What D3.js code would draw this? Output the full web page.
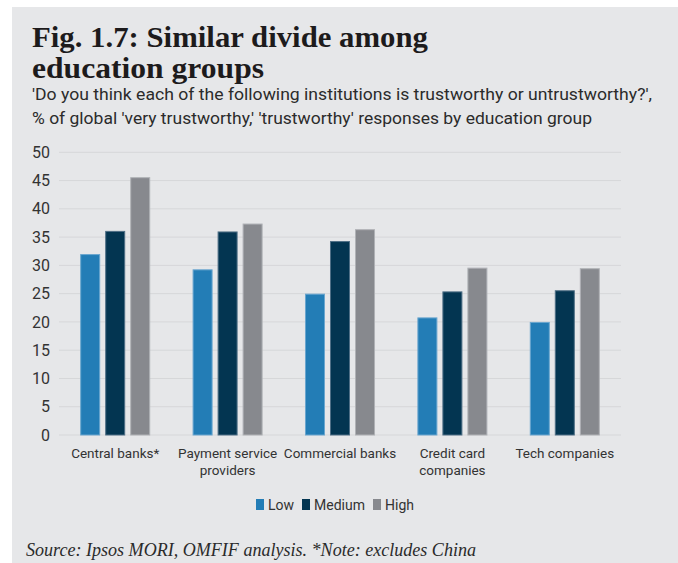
<!DOCTYPE html>
<html>
<head>
<meta charset="utf-8">
<script src="https://cdn.jsdelivr.net/npm/d3@7"></script>
<style>
  html, body { margin: 0; padding: 0; background: #ffffff; }
  svg { display: block; }
</style>
</head>
<body>
<svg id="chart" width="678" height="563"></svg>
<script>
const categories = ["Central banks*", "Payment service\nproviders", "Commercial banks", "Credit card\ncompanies", "Tech companies"];
const seriesNames = ["Low", "Medium", "High"];
const lowValues = [32.0, 29.3, 25.0, 20.8, 20.0];
const mediumValues = [36.1, 36.0, 34.3, 25.4, 25.6];
const highValues = [45.6, 37.4, 36.4, 29.6, 29.5];
const yTicks = [0, 5, 10, 15, 20, 25, 30, 35, 40, 45, 50];
const colors = ["#237db6", "#033551", "#87898e"];
const strokes = ["#6aa6cf", "#4f6f86", "#b0b2b6"];

const seriesValues = [lowValues, mediumValues, highValues];

const svg = d3.select("#chart");

// background panel
svg.append("rect").attr("x", 12).attr("y", 7).attr("width", 666).attr("height", 556).attr("fill", "#e6e7e9");

// Title
const title = svg.append("g");
title.append("text").attr("x", 32).attr("y", 47)
  .attr("font-family", "'Liberation Serif', 'Times New Roman', serif").attr("font-weight", "bold")
  .attr("font-size", 29).attr("fill", "#1d1b1c")
  .attr("textLength", 396).attr("lengthAdjust", "spacingAndGlyphs")
  .text("Fig. 1.7: Similar divide among");
title.append("text").attr("x", 32).attr("y", 78)
  .attr("font-family", "'Liberation Serif', 'Times New Roman', serif").attr("font-weight", "bold")
  .attr("font-size", 29).attr("fill", "#1d1b1c")
  .attr("textLength", 232).attr("lengthAdjust", "spacingAndGlyphs")
  .text("education groups");

// Subtitle
svg.append("text").attr("x", 32).attr("y", 100)
  .attr("font-family", "Roboto, sans-serif").attr("font-size", 17).attr("fill", "#2b2b2b")
  .attr("textLength", 620).attr("lengthAdjust", "spacingAndGlyphs")
  .text("'Do you think each of the following institutions is trustworthy or untrustworthy?',");
svg.append("text").attr("x", 32).attr("y", 124)
  .attr("font-family", "Roboto, sans-serif").attr("font-size", 17).attr("fill", "#2b2b2b")
  .attr("textLength", 560).attr("lengthAdjust", "spacingAndGlyphs")
  .text("% of global 'very trustworthy,' 'trustworthy' responses by education group");

// Scales
const y = d3.scaleLinear().domain([0, 50]).range([435, 152.3]);
const x0 = d3.scaleBand().domain(categories).range([59, 621]).paddingInner(0.377).paddingOuter(0.1885);
const x1 = d3.scaleBand().domain(seriesNames).range([0, x0.bandwidth()]).paddingInner(0.2);

// Gridlines
const grid = svg.append("g");
grid.selectAll("line").data(yTicks).join("line")
  .attr("x1", 59).attr("x2", 621)
  .attr("y1", d => y(d)).attr("y2", d => y(d))
  .attr("stroke", "#d6d7d9").attr("stroke-width", 1);

// Y axis labels
const yAxis = svg.append("g").attr("transform", "translate(50,0)")
  .call(d3.axisLeft(y).tickValues(yTicks).tickSize(0).tickPadding(0));
yAxis.select(".domain").remove();
yAxis.selectAll("text")
  .attr("font-family", "Roboto, sans-serif").attr("font-size", 16).attr("fill", "#333333");

// Bars
const groups = svg.append("g").selectAll("g").data(categories).join("g")
  .attr("transform", d => `translate(${x0(d)},0)`);
groups.selectAll("rect")
  .data((d, i) => seriesNames.map((s, j) => ({ s, j, v: seriesValues[j][i] })))
  .join("rect")
  .attr("x", d => x1(d.s) + 0.5)
  .attr("width", x1.bandwidth() - 1)
  .attr("y", d => y(d.v) + 0.5)
  .attr("height", d => y(0) - y(d.v) - 0.5)
  .attr("fill", d => colors[d.j])
  .attr("stroke", d => strokes[d.j])
  .attr("stroke-width", 1);

// X axis labels
const xAxis = svg.append("g").attr("transform", "translate(0,435)")
  .call(d3.axisBottom(x0).tickSize(0).tickPadding(0));
xAxis.select(".domain").remove();
xAxis.selectAll(".tick text").each(function(d) {
  const t = d3.select(this);
  t.text(null).attr("y", 0).attr("dy", null)
    .attr("font-family", "Roboto, sans-serif").attr("font-size", 13.5).attr("fill", "#333333");
  d.split("\n").forEach((line, i) => {
    t.append("tspan").attr("x", 0).attr("y", 23 + i * 17).text(line);
  });
});

// Legend
const legendX = [256, 302, 373];
const legend = svg.append("g");
seriesNames.forEach((s, i) => {
  legend.append("rect").attr("x", legendX[i]).attr("y", 499).attr("width", 8).attr("height", 11).attr("fill", colors[i]);
  legend.append("text").attr("x", legendX[i] + 12).attr("y", 510)
    .attr("font-family", "Roboto, sans-serif").attr("font-size", 14).attr("fill", "#333333").text(s);
});

// Footer
svg.append("text").attr("x", 26).attr("y", 556)
  .attr("font-family", "'Liberation Serif', 'Times New Roman', serif").attr("font-style", "italic")
  .attr("font-size", 18).attr("fill", "#2b2b2b")
  .attr("textLength", 450).attr("lengthAdjust", "spacingAndGlyphs")
  .text("Source: Ipsos MORI, OMFIF analysis. *Note: excludes China");
</script>
</body>
</html>
